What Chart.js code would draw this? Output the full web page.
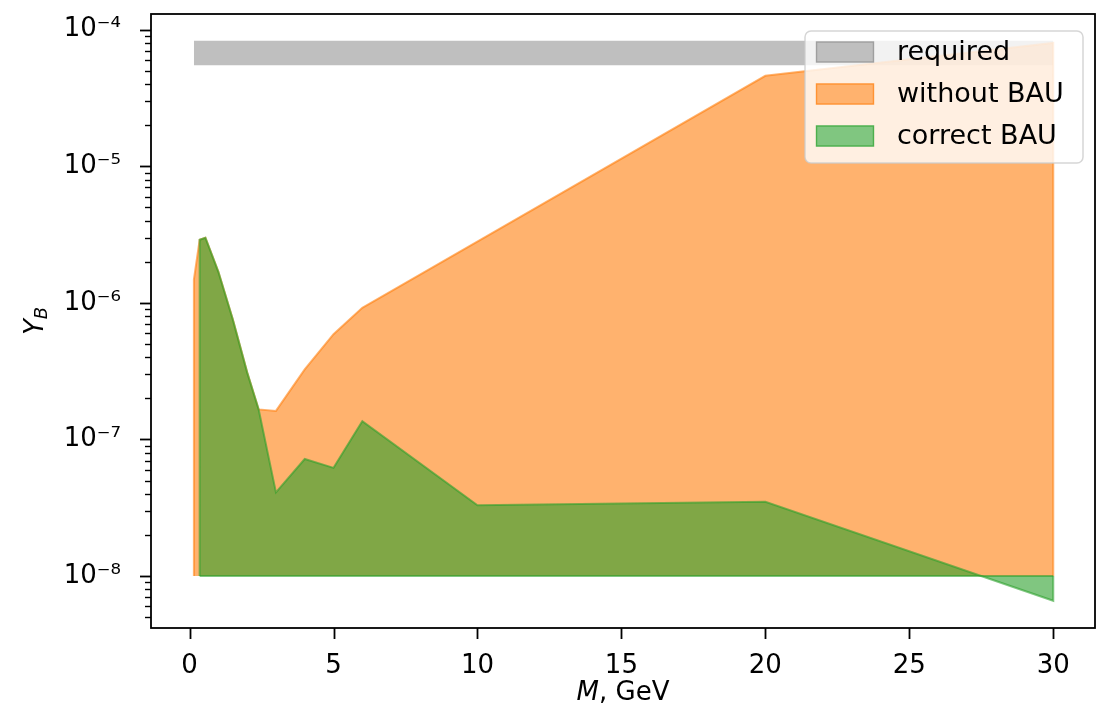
<!DOCTYPE html>
<html>
<head>
<meta charset="utf-8">
<script src="https://cdn.jsdelivr.net/npm/chart.js@4.4.1/dist/chart.umd.min.js"></script>
<style>
  html, body { margin: 0; padding: 0; background: #ffffff; overflow: hidden; }
  #bauChart { display: block; }
</style>
</head>
<body>
<canvas id="bauChart" width="1097" height="713"></canvas>
<script>
// Dados
const floorLevel = 1e-8;

const massRequired = [0.15, 30];
const requiredLow = [5.5e-5, 5.5e-5];
const requiredHigh = [8.3e-5, 8.3e-5];

const massWithout = [0.15, 0.35, 0.55, 1.0, 1.5, 2.0, 2.4, 3.0, 4.0, 5.0, 6.0, 20.0, 30.0];
const yWithout = [1.48e-6, 2.9e-6, 3.0e-6, 1.69e-6, 7.6e-7, 3.1e-7, 1.66e-7, 1.62e-7, 3.26e-7, 5.9e-7, 9.2e-7, 4.6e-5, 8.0e-5];

const massCorrect = [0.35, 0.55, 1.0, 1.5, 2.0, 2.4, 3.0, 4.0, 5.0, 6.0, 10.0, 20.0, 30.0];
const yCorrect = [2.9e-6, 3.0e-6, 1.69e-6, 7.6e-7, 3.1e-7, 1.66e-7, 4.1e-8, 7.2e-8, 6.2e-8, 1.36e-7, 3.3e-8, 3.5e-8, 6.6e-9];

const xTicks = [0, 5, 10, 15, 20, 25, 30];
const yDecades = [-8, -7, -6, -5, -4];

const fontFamily = '"DejaVu Sans", sans-serif';

// área fechada: sobe na primeira massa, segue a curva, desce na última
function areaPoints(xs, ys, base) {
    const pts = [{x: xs[0], y: base}];
    xs.forEach((x, i) => pts.push({x: x, y: ys[i]}));
    pts.push({x: xs[xs.length - 1], y: base});
    return pts;
}

function linePoints(xs, ys) {
    return xs.map((x, i) => ({x: x, y: ys[i]}));
}

const supDigits = {'0': '⁰', '1': '¹', '2': '²', '3': '³', '4': '⁴', '5': '⁵', '6': '⁶', '7': '⁷', '8': '⁸', '9': '⁹', '-': '⁻'};
function powLabel(e) {
    return '10' + String(e).split('').map(c => supDigits[c]).join('');
}

// ticks do eixo y: décadas + subdivisões
const yMajorTicks = yDecades.map(e => Math.pow(10, e));
const yMinorTicks = [];
[-9].concat(yDecades).forEach(e => {
    for (let m = 2; m <= 9; m++) yMinorTicks.push(m * Math.pow(10, e));
});

// zera o espaço extra que o Chart.js reserva para os rótulos das pontas
function noEdgePadding(scale) {
    scale.paddingTop = 0;
    scale.paddingBottom = 0;
    scale.paddingLeft = 0;
    scale.paddingRight = 0;
}

// moldura, marcas dos eixos e títulos
const axesDecor = {
    id: 'axesDecor',
    afterDraw(chart) {
        const ctx = chart.ctx;
        const a = chart.chartArea;
        const xs = chart.scales.x;
        const ys = chart.scales.y;
        ctx.save();
        ctx.strokeStyle = '#000';
        ctx.lineWidth = 1.8;
        ctx.strokeRect(a.left, a.top, a.right - a.left, a.bottom - a.top);

        ctx.lineWidth = 1.8;
        xTicks.forEach(v => {
            const px = Math.round(xs.getPixelForValue(v)) + 0.5;
            ctx.beginPath();
            ctx.moveTo(px, a.bottom);
            ctx.lineTo(px, a.bottom + 11);
            ctx.stroke();
        });
        yMajorTicks.forEach(v => {
            const py = Math.round(ys.getPixelForValue(v)) + 0.5;
            ctx.beginPath();
            ctx.moveTo(a.left, py);
            ctx.lineTo(a.left - 11, py);
            ctx.stroke();
        });
        ctx.lineWidth = 1.4;
        yMinorTicks.forEach(v => {
            if (v < ys.min || v > ys.max) return;
            const py = Math.round(ys.getPixelForValue(v)) + 0.5;
            ctx.beginPath();
            ctx.moveTo(a.left, py);
            ctx.lineTo(a.left - 6, py);
            ctx.stroke();
        });

        // título do eixo x: "M, GeV"
        ctx.fillStyle = '#000';
        ctx.textBaseline = 'middle';
        const cx = (a.left + a.right) / 2;
        ctx.font = 'italic 26px ' + fontFamily;
        const wM = ctx.measureText('M').width;
        ctx.font = '26px ' + fontFamily;
        const wRest = ctx.measureText(', GeV').width;
        let sx = cx - (wM + wRest) / 2;
        ctx.font = 'italic 26px ' + fontFamily;
        ctx.textAlign = 'left';
        ctx.fillText('M', sx, 693);
        ctx.font = '26px ' + fontFamily;
        ctx.fillText(', GeV', sx + wM, 693);

        // título do eixo y: Y_B
        ctx.translate(36, (a.top + a.bottom) / 2);
        ctx.rotate(-Math.PI / 2);
        ctx.font = 'italic 26px ' + fontFamily;
        const wY = ctx.measureText('Y').width;
        ctx.font = 'italic 18px ' + fontFamily;
        const wB = ctx.measureText('B').width;
        const y0 = -(wY + wB) / 2;
        ctx.font = 'italic 26px ' + fontFamily;
        ctx.fillText('Y', y0, 0);
        ctx.font = 'italic 18px ' + fontFamily;
        ctx.fillText('B', y0 + wY, 6);
        ctx.restore();
    }
};

// legenda dentro da área do gráfico (canto superior direito)
const insideLegend = {
    id: 'insideLegend',
    afterDraw(chart) {
        const ctx = chart.ctx;
        const a = chart.chartArea;
        const items = chart.data.datasets.filter(d => d.legendLabel);
        const box = {x: a.right - 290, y: a.top + 17, w: 278, h: 132};
        ctx.save();
        ctx.beginPath();
        ctx.roundRect(box.x, box.y, box.w, box.h, 6);
        ctx.fillStyle = 'rgba(255,255,255,0.8)';
        ctx.fill();
        ctx.strokeStyle = 'rgba(204,204,204,0.8)';
        ctx.lineWidth = 1.5;
        ctx.stroke();
        ctx.font = '27px ' + fontFamily;
        ctx.textBaseline = 'middle';
        ctx.textAlign = 'left';
        items.forEach((d, i) => {
            const cy = box.y + 21 + i * 42;
            const hx = box.x + 11;
            ctx.fillStyle = 'rgba(255,255,255,1)';
            ctx.fillRect(hx, cy - 10.5, 58, 21);
            ctx.fillStyle = d.backgroundColor;
            ctx.fillRect(hx, cy - 10.5, 58, 21);
            ctx.strokeStyle = d.borderColor;
            ctx.lineWidth = 1.5;
            ctx.strokeRect(hx + 0.5, cy - 10, 57, 20);
            ctx.fillStyle = '#000';
            ctx.fillText(d.legendLabel, box.x + 92, cy + 1);
        });
        ctx.restore();
    }
};

const bauChart = new Chart(
    document.getElementById('bauChart'),
    {
        type: 'line',
        data: {
            datasets: [
                {
                    legendLabel: 'required',
                    data: linePoints(massRequired, requiredHigh),
                    backgroundColor: 'rgba(128,128,128,0.5)',
                    borderColor: 'rgba(128,128,128,0.5)',
                    borderWidth: 0,
                    pointRadius: 0,
                    fill: 3,
                    order: 3
                },
                {
                    legendLabel: 'without BAU',
                    data: areaPoints(massWithout, yWithout, floorLevel),
                    backgroundColor: 'rgba(255,127,14,0.6)',
                    borderColor: 'rgba(255,127,14,0.6)',
                    borderWidth: 2,
                    pointRadius: 0,
                    tension: 0,
                    fill: {value: floorLevel},
                    order: 2
                },
                {
                    legendLabel: 'correct BAU',
                    data: areaPoints(massCorrect, yCorrect, floorLevel),
                    backgroundColor: 'rgba(44,160,44,0.6)',
                    borderColor: 'rgba(44,160,44,0.6)',
                    borderWidth: 2,
                    pointRadius: 0,
                    tension: 0,
                    fill: {value: floorLevel},
                    order: 1
                },
                {
                    data: linePoints(massRequired, requiredLow),
                    borderColor: 'rgba(0,0,0,0)',
                    borderWidth: 0,
                    pointRadius: 0,
                    fill: false,
                    order: 4
                },
                {
                    // borda inferior da área verde
                    data: linePoints([massCorrect[0], massCorrect[massCorrect.length - 1]], [floorLevel, floorLevel]),
                    borderColor: 'rgba(44,160,44,0.6)',
                    borderWidth: 2,
                    pointRadius: 0,
                    fill: false,
                    order: 0
                }
            ]
        },
        options: {
            responsive: false,
            animation: false,
            devicePixelRatio: 1,
            layout: {
                padding: {left: 0, top: 14, right: 2, bottom: 0}
            },
            plugins: {
                legend: {display: false},
                tooltip: {enabled: false},
                title: {display: false}
            },
            scales: {
                x: {
                    type: 'linear',
                    min: -1.34,
                    max: 31.45,
                    afterBuildTicks: scale => {
                        scale.ticks = xTicks.map(v => ({value: v}));
                    },
                    afterFit: scale => { scale.height = 85; noEdgePadding(scale); },
                    grid: {display: false},
                    border: {display: false},
                    ticks: {
                        color: '#000',
                        font: {family: fontFamily, size: 26},
                        padding: 15,
                        maxRotation: 0,
                        autoSkip: false
                    }
                },
                y: {
                    type: 'logarithmic',
                    min: Math.pow(10, -8.38),
                    max: Math.pow(10, -3.885),
                    afterBuildTicks: scale => {
                        scale.ticks = yMajorTicks.map(v => ({value: v}));
                    },
                    afterFit: scale => { scale.width = 151; noEdgePadding(scale); },
                    grid: {display: false},
                    border: {display: false},
                    ticks: {
                        color: '#000',
                        font: {family: fontFamily, size: 26},
                        padding: 22,
                        autoSkip: false,
                        callback: v => {
                            const e = Math.round(Math.log10(v));
                            return powLabel(e);
                        }
                    }
                }
            }
        },
        plugins: [axesDecor, insideLegend]
    }
);

// ajusta o recuo para a área de plotagem cair onde está no original
const targetArea = {left: 151, right: 1095, top: 14, bottom: 628};
for (let k = 0; k < 3; k++) {
    const a = bauChart.chartArea;
    const pad = bauChart.options.layout.padding;
    const dR = a.right - targetArea.right;
    const dT = targetArea.top - a.top;
    const dB = a.bottom - targetArea.bottom;
    if (Math.abs(dR) < 0.5 && Math.abs(dT) < 0.5 && Math.abs(dB) < 0.5) break;
    pad.right += dR;
    pad.top += dT;
    pad.bottom += dB;
    bauChart.update();
}
</script>
</body>
</html>
